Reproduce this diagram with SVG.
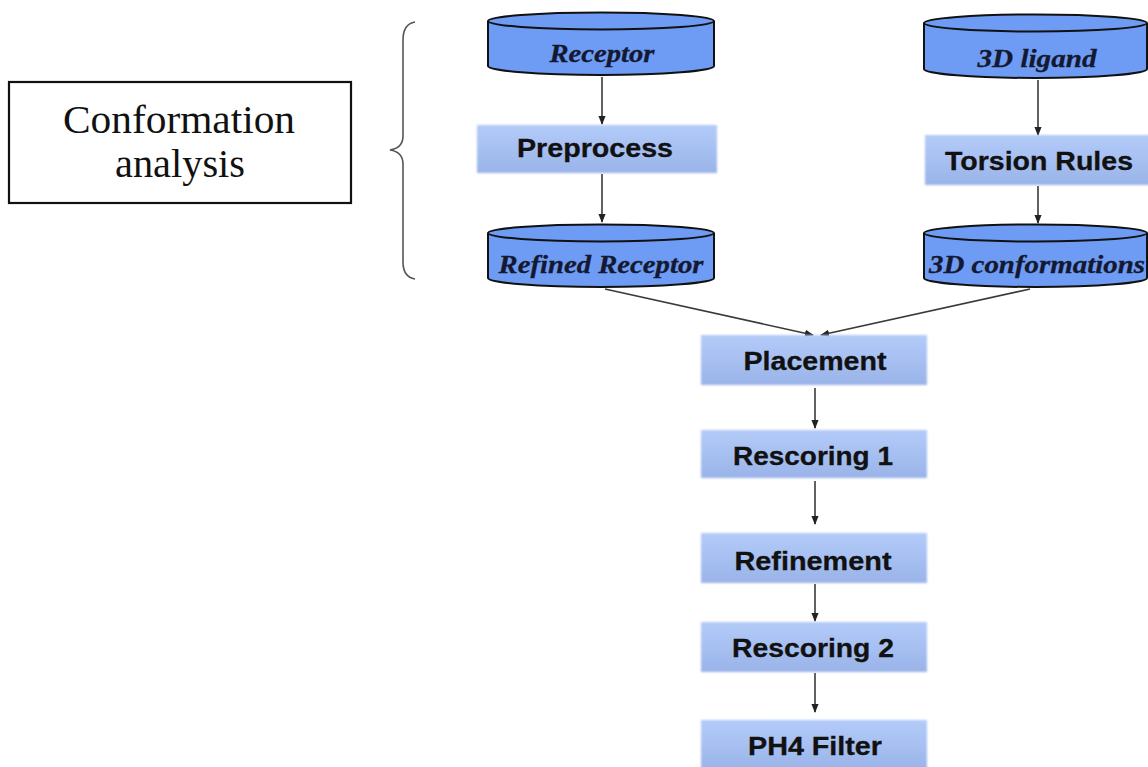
<svg xmlns="http://www.w3.org/2000/svg" width="1148" height="767" viewBox="0 0 1148 767">
  <style>
    .db-body { fill: #6e9cf4; stroke: #111; stroke-width: 2; }
    .db-label { font-family: "Liberation Serif", serif; font-weight: bold; font-style: italic; font-size: 25px; fill: #141830; stroke: #141830; stroke-width: 0.3; text-anchor: middle; }
    .step { fill: url(#stepFill); filter: url(#soft); }
    .step-label { font-family: "Liberation Sans", Arial, sans-serif; font-weight: bold; font-size: 25px; fill: #111; stroke: #111; stroke-width: 0.3; text-anchor: middle; }
    .link { fill: none; stroke: #3a3a3a; stroke-width: 1.6; marker-end: url(#arrow); }
    .note { font-family: "Liberation Serif", serif; font-size: 39px; fill: #111; text-anchor: middle; }
  </style>
  <defs>
    <linearGradient id="stepFill" x1="0" y1="0" x2="0" y2="1">
      <stop offset="0" stop-color="#b3cbf8"/>
      <stop offset="0.5" stop-color="#a7c0f2"/>
      <stop offset="1" stop-color="#9ab3e8"/>
    </linearGradient>
    <filter id="soft" x="-5%" y="-10%" width="110%" height="120%">
      <feGaussianBlur stdDeviation="0.8"/>
    </filter>
    <marker id="arrow" viewBox="0 0 10 10" refX="9" refY="5" markerWidth="9" markerHeight="9" orient="auto" markerUnits="userSpaceOnUse">
      <path d="M0,1 L10,5 L0,9 Z" fill="#222"/>
    </marker>
  </defs>

  <rect width="1148" height="767" fill="#ffffff"/>

  <!-- side note with brace -->
  <g id="conformation-analysis">
    <rect x="9" y="82" width="342" height="121" fill="none" stroke="#111" stroke-width="2.2"/>
    <text class="note" x="179" y="133" textLength="232" lengthAdjust="spacingAndGlyphs">Conformation</text>
    <text class="note" x="180" y="177" textLength="130" lengthAdjust="spacingAndGlyphs">analysis</text>
  </g>
  <g id="brace">
    <path d="M415,22 Q403,24 403,40 L403,136 Q403,148 390,150 Q403,152 403,164 L403,262 Q403,277 415,279" fill="none" stroke="#555" stroke-width="1.6"/>
  </g>

  <!-- connectors -->
  <g id="connectors">
    <line class="link" x1="602" y1="77" x2="602" y2="124"/>
    <line class="link" x1="602" y1="174" x2="602" y2="222"/>
    <line class="link" x1="1038" y1="80" x2="1038" y2="135"/>
    <line class="link" x1="1038" y1="186" x2="1038" y2="223"/>
    <line class="link" x1="605" y1="289" x2="813" y2="335"/>
    <line class="link" x1="1030" y1="289" x2="821" y2="335"/>
    <line class="link" x1="815" y1="388" x2="815" y2="428"/>
    <line class="link" x1="815" y1="481" x2="815" y2="524"/>
    <line class="link" x1="815" y1="584" x2="815" y2="621"/>
    <line class="link" x1="815" y1="673" x2="815" y2="712"/>
  </g>

  <!-- data stores -->
  <g id="receptor">
    <path class="db-body" d="M488,21 V66 A113,9 0 0 0 714,66 V21"/>
    <ellipse class="db-body" cx="601" cy="21" rx="113" ry="8.5"/>
    <text class="db-label" x="602" y="62" textLength="105" lengthAdjust="spacingAndGlyphs">Receptor</text>
  </g>
  <g id="refined-receptor">
    <path class="db-body" d="M488,233 V278 A113,9 0 0 0 714,278 V233"/>
    <ellipse class="db-body" cx="601" cy="233" rx="113" ry="8.5"/>
    <text class="db-label" x="601" y="273" textLength="205" lengthAdjust="spacingAndGlyphs">Refined Receptor</text>
  </g>
  <g id="ligand-3d">
    <path class="db-body" d="M924,23 V69 A111.5,9 0 0 0 1147,69 V23"/>
    <ellipse class="db-body" cx="1035.5" cy="23" rx="111.5" ry="8.5"/>
    <text class="db-label" x="1037" y="67" textLength="119" lengthAdjust="spacingAndGlyphs">3D ligand</text>
  </g>
  <g id="conformations-3d">
    <path class="db-body" d="M924,233 V278 A111.5,9 0 0 0 1147,278 V233"/>
    <ellipse class="db-body" cx="1035.5" cy="233" rx="111.5" ry="8.5"/>
    <text class="db-label" x="1037" y="273" textLength="216" lengthAdjust="spacingAndGlyphs">3D conformations</text>
  </g>

  <!-- processing steps -->
  <g id="preprocess">
    <rect class="step" x="477" y="125" width="240" height="48"/>
    <text class="step-label" x="595" y="157" textLength="156" lengthAdjust="spacingAndGlyphs">Preprocess</text>
  </g>
  <g id="torsion-rules">
    <rect class="step" x="925" y="135" width="225" height="50"/>
    <text class="step-label" x="1039" y="170" textLength="188" lengthAdjust="spacingAndGlyphs">Torsion Rules</text>
  </g>
  <g id="placement">
    <rect class="step" x="701" y="335" width="226" height="50"/>
    <text class="step-label" x="815" y="370" textLength="143" lengthAdjust="spacingAndGlyphs">Placement</text>
  </g>
  <g id="rescoring-1">
    <rect class="step" x="701" y="430" width="226" height="48"/>
    <text class="step-label" x="813" y="465" textLength="160" lengthAdjust="spacingAndGlyphs">Rescoring 1</text>
  </g>
  <g id="refinement">
    <rect class="step" x="701" y="533" width="226" height="50"/>
    <text class="step-label" x="813" y="570" textLength="157" lengthAdjust="spacingAndGlyphs">Refinement</text>
  </g>
  <g id="rescoring-2">
    <rect class="step" x="701" y="622" width="226" height="50"/>
    <text class="step-label" x="813" y="657" textLength="162" lengthAdjust="spacingAndGlyphs">Rescoring 2</text>
  </g>
  <g id="ph4-filter">
    <rect class="step" x="701" y="720" width="226" height="50"/>
    <text class="step-label" x="815" y="755" textLength="134" lengthAdjust="spacingAndGlyphs">PH4 Filter</text>
  </g>
</svg>
